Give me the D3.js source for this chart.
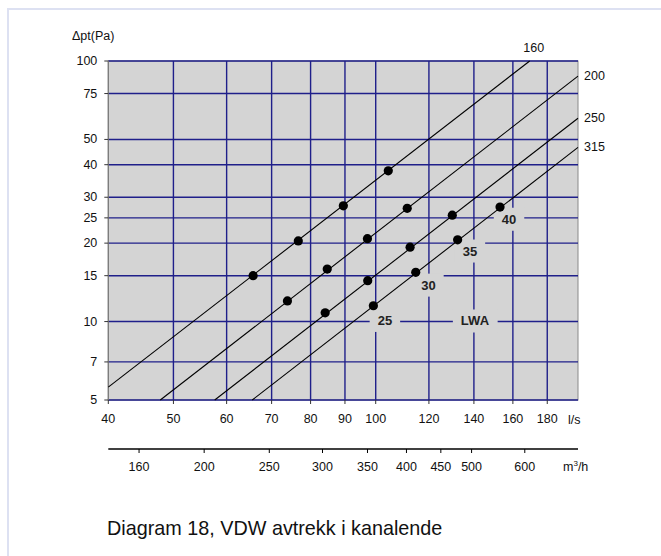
<!DOCTYPE html>
<html>
<head>
<meta charset="utf-8">
<script src="https://cdn.jsdelivr.net/npm/d3@7"></script>
<style>
  html, body { margin: 0; padding: 0; background: #ffffff; }
  svg { display: block; font-family: "Liberation Sans", Arial, sans-serif; }
</style>
</head>
<body>
<svg id="chart" width="661" height="556"></svg>
<script>
// ---- data ----
const lsTicks = [40, 50, 60, 70, 80, 90, 100, 120, 140, 160, 180];
const paTicks = [5, 7, 10, 15, 20, 25, 30, 40, 50, 75, 100];
const m3hTicks = [160, 200, 250, 300, 350, 400, 450, 500, 600];

const ductSizes = ["160", "200", "250", "315"];
const lineStartLs = [40, 47.8, 57.6, 65.5];
const lineStartPa = [5.6, 5, 5, 5];
const lineEndLs = [169.5, 200, 200, 200];
const lineEndPa = [100, 87.5, 60.3, 46.6];

const dots160Ls = [65.7, 76.7, 89.5, 104.4];
const dots160Pa = [15.0, 20.4, 27.8, 37.9];
const dots200Ls = [73.9, 84.7, 97.2, 111.4];
const dots200Pa = [12.0, 15.9, 20.8, 27.2];
const dots250Ls = [84.1, 97.3, 112.5, 130.0];
const dots250Pa = [10.8, 14.35, 19.3, 25.6];
const dots315Ls = [99.2, 114.7, 132.4, 153.1];
const dots315Pa = [11.5, 15.45, 20.6, 27.5];

const lwaLabels = ["25", "30", "35", "40", "LWA"];
const lwaLs = [103.2, 119.8, 138.1, 157.9, 140.5];
const lwaPa = [10.1, 13.8, 18.65, 24.7, 10.05];

// ---- layout ----
const svg = d3.select("#chart");
const pL = 108.3, pR = 578, pT = 61, pB = 400;
const x = d3.scaleLog().domain([40, 200]).range([pL, pR]);
const y = d3.scaleLog().domain([5, 100]).range([pB, pT]);
const gridColor = "#1f1f8a";

// outer frame (only top/left visible)
svg.append("rect").attr("x", 8).attr("y", 9).attr("width", 720).attr("height", 620)
  .attr("fill", "none").attr("stroke", "#dde1f2").attr("stroke-width", 2);

// plot background
svg.append("rect").attr("x", pL).attr("y", pT)
  .attr("width", pR - pL).attr("height", pB - pT)
  .attr("fill", "#d4d4d4").attr("stroke", "#8a8a8a").attr("stroke-width", 1);

const gGrid = svg.append("g");
const gBox = svg.append("g");
const gLines = svg.append("g");
const gDots = svg.append("g");
const gText = svg.append("g");

// grid
gGrid.selectAll("line.v").data(lsTicks.filter(d => d > 40)).join("line").attr("class", "v")
  .attr("x1", d => x(d)).attr("x2", d => x(d)).attr("y1", pT).attr("y2", pB)
  .attr("stroke", gridColor).attr("stroke-width", 1.4);
gGrid.selectAll("line.h").data(paTicks).join("line").attr("class", "h")
  .attr("x1", pL).attr("x2", pR).attr("y1", d => y(d)).attr("y2", d => y(d))
  .attr("stroke", gridColor).attr("stroke-width", 1.4);
gGrid.append("line").attr("x1", pL).attr("x2", pL).attr("y1", pT).attr("y2", pB)
  .attr("stroke", "#7a7a7a").attr("stroke-width", 1.2);

// LWA labels with background boxes
const lwaData = lwaLabels.map((t, i) => ({ t, ls: lwaLs[i], pa: lwaPa[i] }));
const lwaTexts = gText.selectAll("text.lwa").data(lwaData).join("text").attr("class", "lwa")
  .attr("x", d => x(d.ls)).attr("y", d => y(d.pa))
  .attr("text-anchor", "middle").attr("dominant-baseline", "central")
  .attr("font-size", 13).attr("font-weight", "bold").attr("fill", "#222")
  .text(d => d.t);
lwaTexts.each(function () {
  const b = this.getBBox();
  gBox.append("rect")
    .attr("x", b.x - 8).attr("y", b.y - 4)
    .attr("width", b.width + 16).attr("height", b.height + 8)
    .attr("fill", "#d4d4d4");
});

// duct lines
const lineData = ductSizes.map((s, i) => ({
  s, pts: [[lineStartLs[i], lineStartPa[i]], [lineEndLs[i], lineEndPa[i]]]
}));
const lineGen = d3.line().x(d => x(d[0])).y(d => y(d[1]));
gLines.selectAll("path").data(lineData).join("path")
  .attr("d", d => lineGen(d.pts)).attr("fill", "none")
  .attr("stroke", "#000").attr("stroke-width", 1.1);

// dots
const dotSets = [[dots160Ls, dots160Pa], [dots200Ls, dots200Pa], [dots250Ls, dots250Pa], [dots315Ls, dots315Pa]];
const dots = [];
dotSets.forEach(([ls, pa]) => ls.forEach((v, i) => dots.push([v, pa[i]])));
gDots.selectAll("circle").data(dots).join("circle")
  .attr("cx", d => x(d[0])).attr("cy", d => y(d[1])).attr("r", 4.6).attr("fill", "#000");

// duct size labels
gText.selectAll("text.duct").data(lineData).join("text").attr("class", "duct")
  .attr("x", (d, i) => x(d.pts[1][0]) + (i === 0 ? 4 : 6))
  .attr("y", (d, i) => y(d.pts[1][1]) + (i === 0 ? -13 : 0))
  .attr("text-anchor", (d, i) => i === 0 ? "middle" : "start")
  .attr("dominant-baseline", "central")
  .attr("font-size", 12.5).attr("fill", "#111").text(d => d.s);

// y axis ticks & labels
const yAx = svg.append("g");
yAx.selectAll("line").data(paTicks).join("line")
  .attr("x1", pL - 4).attr("x2", pL).attr("y1", d => y(d)).attr("y2", d => y(d))
  .attr("stroke", "#333").attr("stroke-width", 1);
yAx.selectAll("text").data(paTicks).join("text")
  .attr("x", pL - 11).attr("y", d => y(d)).attr("text-anchor", "end")
  .attr("dominant-baseline", "central").attr("font-size", 12.5).attr("fill", "#111")
  .text(d => d);
svg.append("text").attr("x", 72).attr("y", 36).attr("dominant-baseline", "central")
  .attr("font-size", 12.5).attr("fill", "#111").text("Δpt(Pa)");

// x axis (l/s)
const xAx = svg.append("g");
xAx.selectAll("line").data(lsTicks).join("line")
  .attr("x1", d => x(d)).attr("x2", d => x(d)).attr("y1", pB).attr("y2", pB + 4)
  .attr("stroke", "#333").attr("stroke-width", 1);
xAx.selectAll("text").data(lsTicks).join("text")
  .attr("x", d => x(d)).attr("y", 419).attr("text-anchor", "middle")
  .attr("dominant-baseline", "central").attr("font-size", 12.5).attr("fill", "#111")
  .text(d => d);
svg.append("text").attr("x", 568).attr("y", 420).attr("dominant-baseline", "central")
  .attr("font-size", 12.5).attr("fill", "#111").text("l/s");

// second axis (m3/h)
const m3Y = 449;
const mAx = svg.append("g");
mAx.append("line").attr("x1", pL).attr("x2", pR).attr("y1", m3Y).attr("y2", m3Y)
  .attr("stroke", "#000").attr("stroke-width", 1.5);
mAx.selectAll("line.t").data(m3hTicks).join("line").attr("class", "t")
  .attr("x1", d => x(d / 3.6)).attr("x2", d => x(d / 3.6)).attr("y1", m3Y).attr("y2", m3Y + 4)
  .attr("stroke", "#000").attr("stroke-width", 1);
mAx.selectAll("text").data(m3hTicks).join("text")
  .attr("x", d => x(d / 3.6)).attr("y", 467).attr("text-anchor", "middle")
  .attr("dominant-baseline", "central").attr("font-size", 12.5).attr("fill", "#111")
  .text(d => d);
const mt = svg.append("text").attr("x", 563).attr("y", 467).attr("dominant-baseline", "central")
  .attr("font-size", 12.5).attr("fill", "#111");
mt.append("tspan").text("m");
mt.append("tspan").attr("font-size", 8).attr("dy", -4).text("3");
mt.append("tspan").attr("dy", 4).text("/h");

// caption
svg.append("text").attr("x", 107).attr("y", 535)
  .attr("font-size", 19.8).attr("fill", "#111").text("Diagram 18, VDW avtrekk i kanalende");
</script>
</body>
</html>
